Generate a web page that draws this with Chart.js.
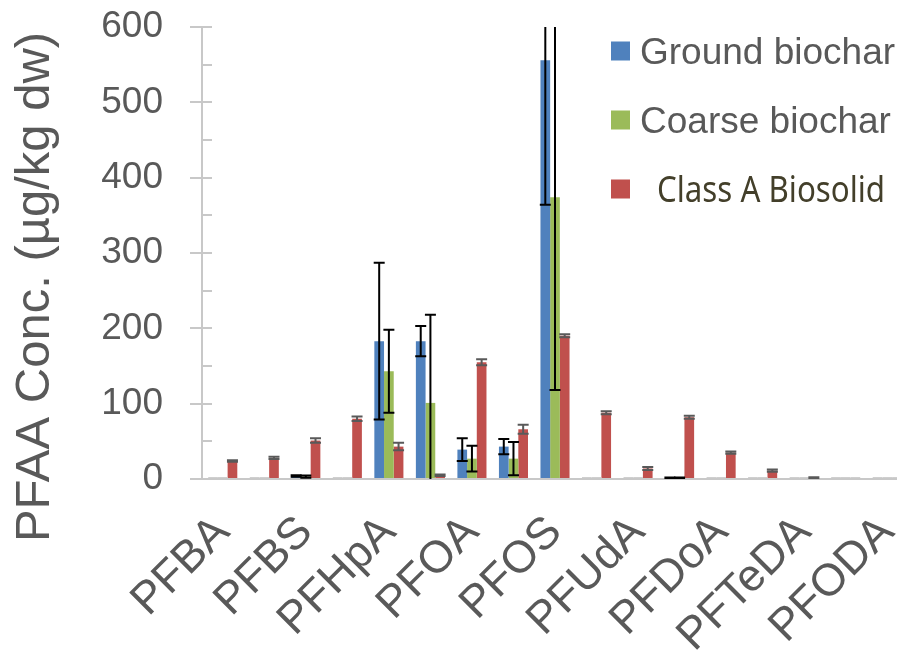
<!DOCTYPE html>
<html>
<head>
<meta charset="utf-8">
<script src="https://cdn.jsdelivr.net/npm/chart.js@4.4.0/dist/chart.umd.min.js"></script>
<style>
  html, body { margin: 0; padding: 0; background: #fff; overflow: hidden; }
  #wrap { width: 910px; height: 654px; }
</style>
</head>
<body>
<div id="wrap"><canvas id="chart"></canvas></div>
<script>
// categories (Excel only showed every other label)
const categories = ['PFBA', '', 'PFBS', '', 'PFHpA', '', 'PFOA', '', 'PFOS', '', 'PFUdA', '', 'PFDoA', '', 'PFTeDA', '', 'PFODA'];

const groundBiochar = [0.5, 0.5, 4, 0.5, 183, 183, 39, 43, 556, 0.5, 0.5, 1.5, 0.5, 0.5, 0.5, 0.5, 0.5];
const groundErr     = [0, 0, 1, 0, 104, 20, 15, 10, 192, 0, 0, 0.5, 0, 0, 0, 0, 0];
const coarseBiochar = [0.5, 0.5, 3, 0.5, 143, 101, 27, 27, 374, 0.5, 0.5, 1.5, 0.5, 0.5, 0.5, 0.5, 0.5];
const coarseErr     = [0, 0, 1.5, 0, 55, 117, 17, 22, 256, 0, 0, 0.5, 0, 0, 0, 0, 0];
const biosolid      = [24, 28, 51, 80, 43, 5, 155, 66, 190, 88, 14, 82, 35, 11, 1.5, 0.5, 0.5];
const biosolidErr   = [1, 1.5, 3, 3, 5, 1, 4, 6, 2, 2, 2, 2, 1.5, 1.5, 0.8, 0, 0];

const yTicks = [0, 100, 200, 300, 400, 500, 600];
const yMinorTicks = [0, 50, 100, 150, 200, 250, 300, 350, 400, 450, 500, 550, 600];

const BLUE = '#4f81bd', GREEN = '#9bbb59', RED = '#c0504d';
const AXIS = '#c8c8c8', TEXT = '#595959';

// near-zero values show up as a thin grey sliver in the original
const barColor = (c) => (ctx) => (ctx.raw < 1 ? '#cfcfcf' : c);

const errorBars = {
  id: 'errorBars',
  afterDatasetsDraw(chart) {
    const { ctx, chartArea: a, scales: { y } } = chart;
    ctx.save();
    ctx.beginPath();
    ctx.rect(a.left, a.top, a.right - a.left, a.bottom - a.top);
    ctx.clip();
    chart.data.datasets.forEach((ds, di) => {
      const meta = chart.getDatasetMeta(di);
      ctx.strokeStyle = ds.errorColor;
      ctx.lineWidth = 2;
      meta.data.forEach((bar, i) => {
        const e = ds.errors[i];
        if (!e) return;
        const v = ds.data[i];
        const top = y.getPixelForValue(v + e);
        const bot = y.getPixelForValue(v - e);
        ctx.beginPath();
        ctx.moveTo(bar.x, top); ctx.lineTo(bar.x, bot);
        ctx.moveTo(bar.x - 5.5, top); ctx.lineTo(bar.x + 5.5, top);
        ctx.moveTo(bar.x - 5.5, bot); ctx.lineTo(bar.x + 5.5, bot);
        ctx.stroke();
      });
    });
    ctx.restore();
  }
};

const decorations = {
  id: 'decorations',
  afterDraw(chart) {
    const { ctx, chartArea: a, scales: { y } } = chart;
    ctx.save();
    // inner tick marks
    ctx.strokeStyle = AXIS;
    ctx.lineWidth = 2;
    yMinorTicks.forEach(v => {
      const py = Math.round(y.getPixelForValue(v));
      ctx.beginPath();
      ctx.moveTo(a.left, py);
      ctx.lineTo(a.left + 10, py);
      ctx.stroke();
    });

    // y axis title
    ctx.fillStyle = TEXT;
    ctx.font = '49px "Liberation Sans", Arial, sans-serif';
    ctx.textAlign = 'center';
    ctx.textBaseline = 'alphabetic';
    ctx.translate(49, 287);
    ctx.rotate(-Math.PI / 2);
    ctx.fillText('PFAA Conc. (\u00b5g/kg dw)', 0, 0);
    ctx.restore();

    // legend
    const items = [
      { c: BLUE, t: 'Ground biochar', y: 51, tx: 640, w: 0, font: '37px "Liberation Sans", Arial, sans-serif', col: TEXT },
      { c: GREEN, t: 'Coarse biochar', y: 120, tx: 640, w: 0, font: '37px "Liberation Sans", Arial, sans-serif', col: TEXT },
      { c: RED, t: 'Class A Biosolid', y: 189, tx: 657, w: 228, font: '36px "Noto Sans", sans-serif', col: '#433f2a' }
    ];
    items.forEach(it => {
      ctx.save();
      ctx.fillStyle = it.c;
      ctx.fillRect(611, it.y - 9.5, 19, 19);
      ctx.fillStyle = it.col;
      ctx.font = it.font;
      ctx.textAlign = 'left';
      ctx.textBaseline = 'alphabetic';
      ctx.translate(it.tx, it.y + 13);
      if (it.w) ctx.scale(it.w / ctx.measureText(it.t).width, 1);
      ctx.fillText(it.t, 0, 0);
      ctx.restore();
    });
  }
};

new Chart(document.getElementById('chart'), {
  type: 'bar',
  data: {
    labels: categories,
    datasets: [
      { label: 'Ground biochar', data: groundBiochar, errors: groundErr, errorColor: '#000', backgroundColor: barColor(BLUE) },
      { label: 'Coarse biochar', data: coarseBiochar, errors: coarseErr, errorColor: '#000', backgroundColor: barColor(GREEN) },
      { label: 'Class A Biosolid', data: biosolid, errors: biosolidErr, errorColor: '#595959', backgroundColor: barColor(RED) }
    ]
  },
  options: {
    responsive: true,
    maintainAspectRatio: false,
    animation: false,
    layout: { padding: { top: 27, left: 3, right: 2, bottom: 0 } },
    datasets: {
      bar: { categoryPercentage: 0.7, barPercentage: 1.0, minBarLength: 2 }
    },
    plugins: {
      legend: { display: false },
      tooltip: { enabled: false }
    },
    scales: {
      x: {
        grid: { display: false, drawTicks: false },
        border: { display: true, color: AXIS, width: 2 },
        ticks: {
          autoSkip: false,
          maxRotation: 45,
          minRotation: 45,
          padding: 27,
          color: TEXT,
          font: { family: 'Liberation Sans', size: 45 }
        },
        afterFit(s) { s.height = 175; s.paddingLeft = 0; s.paddingRight = 0; }
      },
      y: {
        min: 0,
        max: 600,
        afterBuildTicks(s) { s.ticks = yTicks.map(v => ({ value: v })); },
        grid: { drawOnChartArea: false, drawTicks: true, tickLength: 12, color: AXIS, lineWidth: 2 },
        border: { display: true, color: AXIS, width: 2 },
        ticks: {
          padding: 27,
          color: TEXT,
          font: { family: 'Liberation Sans', size: 37 }
        },
        afterFit(s) { s.width = 199; s.paddingTop = 0; s.paddingBottom = 0; }
      }
    }
  },
  plugins: [errorBars, decorations]
});
</script>
</body>
</html>
